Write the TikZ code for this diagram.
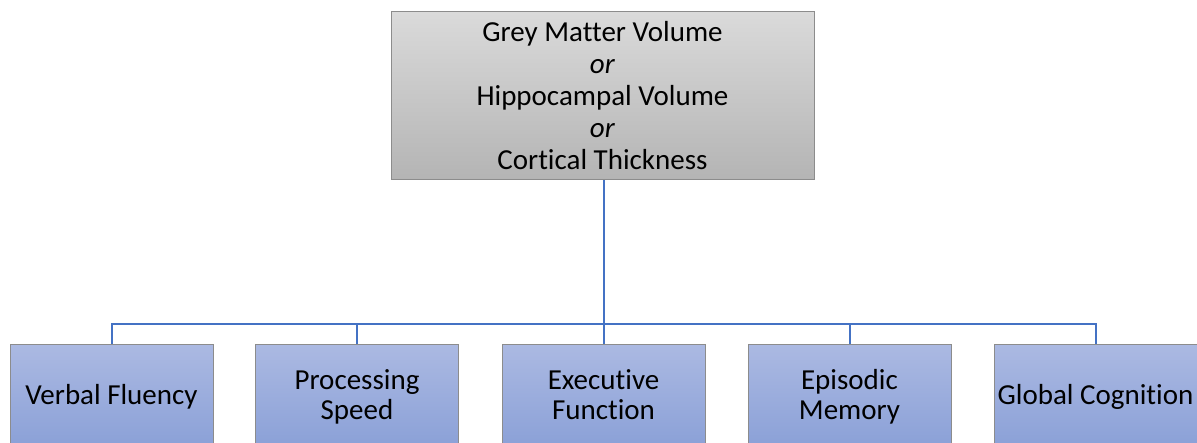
\documentclass[tikz,border=0pt]{standalone}
\usepackage{fontspec}
\setmainfont{Carlito}[Ligatures=NoCommon]
\definecolor{lineblue}{HTML}{4472C4}
\definecolor{boxedge}{HTML}{8C8C8C}
\definecolor{greytop}{HTML}{DADADA}
\definecolor{greybot}{HTML}{B4B4B4}
\definecolor{bluetop}{HTML}{ABB9E2}
\definecolor{bluebot}{HTML}{8AA0D7}
\begin{document}
\begin{tikzpicture}[x=1pt,y=-1pt,
  topbox/.style={draw=boxedge, line width=1pt, top color=greytop, bottom color=greybot,
    minimum width=423pt, minimum height=168pt, inner sep=0pt, align=center,
    font=\fontsize{29}{32}\selectfont},
  leafbox/.style={draw=boxedge, line width=1pt, top color=bluetop, bottom color=bluebot,
    minimum width=203pt, minimum height=104pt, inner sep=0pt, align=center,
    font=\fontsize{29}{30.5}\selectfont},
  conn/.style={draw=lineblue, line width=2pt}]
\useasboundingbox (0,0) rectangle (1197,443);
\node[topbox] (top) at (602.5,96) {Grey Matter Volume\\\textit{or}\\Hippocampal Volume\\\textit{or}\\Cortical Thickness};
\node[leafbox] (vf) at (111.5,397) {Verbal Fluency};
\node[leafbox] (ps) at (357,397) {Processing\\Speed};
\node[leafbox] (ef) at (603.5,397) {Executive\\Function\vphantom{p}};
\node[leafbox] (em) at (849.5,397) {Episodic\\Memory};
\node[leafbox] (gc) at (1095.5,397) {Global Cognition};
\coordinate (hub) at (603.5,324);
\draw[conn] (top.south -| hub) -- (hub);
\draw[conn] (vf.north) |- (hub) -| (gc.north);
\draw[conn] (ps.north) -- (ps.north |- hub);
\draw[conn] (ef.north) -- (hub);
\draw[conn] (em.north) -- (em.north |- hub);
\end{tikzpicture}
\end{document}
